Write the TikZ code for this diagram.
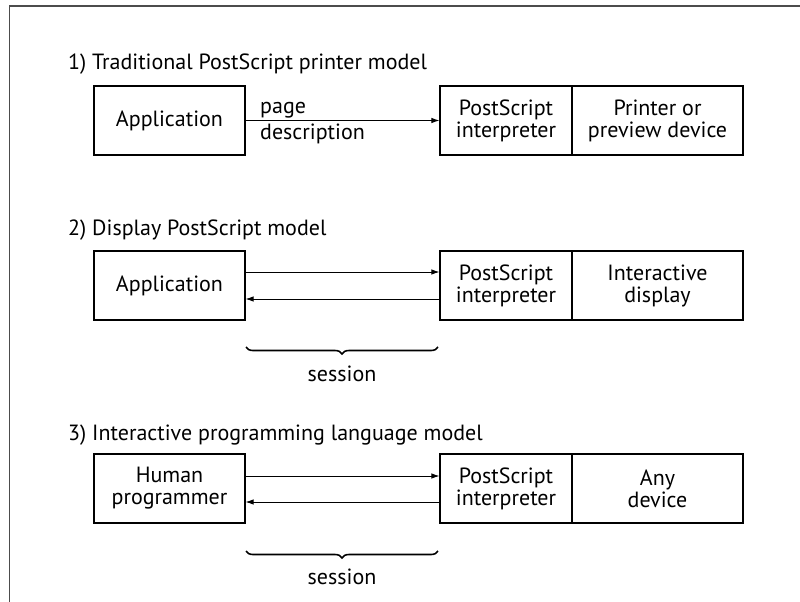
\documentclass[tikz,border=0pt]{standalone}
\usepackage{fontspec}
\setmainfont{PT Sans}
\usetikzlibrary{arrows.meta,decorations.pathreplacing}
\tikzset{
  box/.style={draw=black, line width=1.1pt, rectangle, inner sep=0pt, align=center, minimum height=69pt, font=\fontsize{22}{22}\selectfont},
  lbl/.style={inner sep=0pt, font=\fontsize{22}{22}\selectfont},
  conn/.style={draw=black, line width=0.9pt, -{Latex[length=8pt,width=5.5pt]}},
  sbrace/.style={draw=black, line width=1.6pt, decorate, decoration={brace, mirror, amplitude=7pt}},
  frame/.style={draw=black!70, line width=1.6pt}
}
\begin{document}
\begin{tikzpicture}[x=1pt, y=-1pt]
\useasboundingbox (0,0) rectangle (800,602);
% frame
\coordinate (fa) at (9.3,602);
\coordinate (fb) at (9.3,6);
\coordinate (fc) at (800,6);
\draw[frame] (fa) -- (fb) -- (fc);

% ---- Section 1
\node[lbl, anchor=base west] (t1) at (68,70) {1) Traditional PostScript printer model};
\node[box, minimum width=151pt] (app1) at (169.5,120.5) {Application};
\node[box, minimum width=132pt] (ps1) at (506,120.5) {PostScript\\interpreter};
\node[box, minimum width=171pt] (dev1) at (657.5,120.5) {Printer or\\preview device};
\draw[conn] (app1.east) -- (ps1.west);
\node[lbl, anchor=base west] (pg1) at (260,113) {page};
\node[lbl, anchor=base west] (pd1) at (260,139) {description};

% ---- Section 2
\node[lbl, anchor=base west] (t2) at (68,235) {2) Display PostScript model};
\node[box, minimum width=151pt] (app2) at (169.5,285.5) {Application};
\node[box, minimum width=132pt] (ps2) at (506,285.5) {PostScript\\interpreter};
\node[box, minimum width=171pt] (dev2) at (657.5,285.5) {Interactive\\display};
\draw[conn] ([yshift=13.5pt]app2.east) -- ([yshift=13.5pt]ps2.west);
\draw[conn] ([yshift=-13.5pt]ps2.west) -- ([yshift=-13.5pt]app2.east);
\coordinate (b2a) at (246,347);
\coordinate (b2b) at (438,347);
\draw[sbrace] (b2a) -- (b2b);
\node[lbl, anchor=base] (s2) at (342,381) {session};

% ---- Section 3
\node[lbl, anchor=base west] (t3) at (68,440) {3) Interactive programming language model};
\node[box, minimum width=151pt] (app3) at (169.5,488.5) {Human\\programmer};
\node[box, minimum width=132pt] (ps3) at (506,488.5) {PostScript\\interpreter};
\node[box, minimum width=171pt] (dev3) at (657.5,488.5) {Any\\device};
\draw[conn] ([yshift=12.5pt]app3.east) -- ([yshift=12.5pt]ps3.west);
\draw[conn] ([yshift=-13.5pt]ps3.west) -- ([yshift=-13.5pt]app3.east);
\coordinate (b3a) at (246,551);
\coordinate (b3b) at (438,551);
\draw[sbrace] (b3a) -- (b3b);
\node[lbl, anchor=base] (s3) at (342,584) {session};
\end{tikzpicture}
\end{document}
